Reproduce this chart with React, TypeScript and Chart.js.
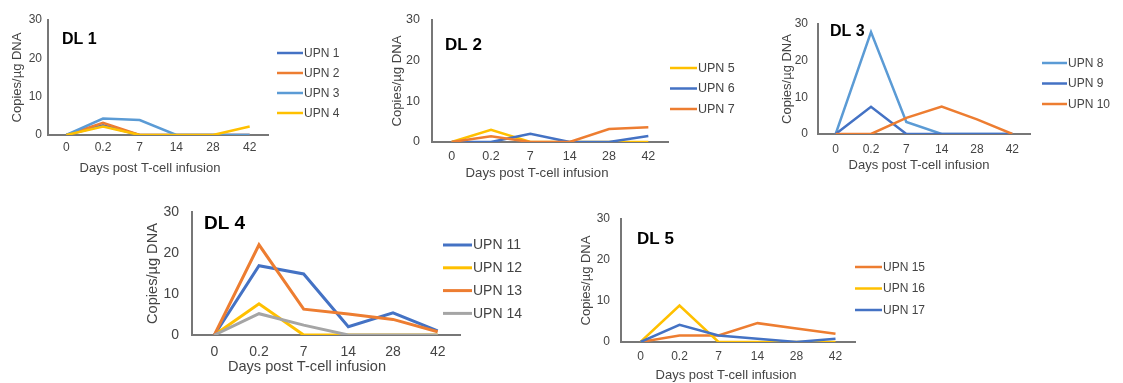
import React, { useEffect, useRef } from 'react';
import { Chart, registerables } from 'chart.js';

Chart.register(...registerables);

// ---------- data ----------
const days = ['0', '0.2', '7', '14', '28', '42'];
const yMin = 0;
const yMax = 30;
const yStep = 10;

const dl1Labels = ['UPN 1', 'UPN 2', 'UPN 3', 'UPN 4'];
const upn1 = [0, 2.5, 0, 0, 0, 0];
const upn2 = [0, 3.2, 0, 0, 0, 0];
const upn3 = [0, 4.3, 3.9, 0, 0, 0];
const upn4 = [0, 2.2, 0, 0, 0, 2.2];

const dl2Labels = ['UPN 5', 'UPN 6', 'UPN 7'];
const upn5 = [0, 3, 0, 0, 0, 0];
const upn6 = [0, 0, 2, 0, 0, 1.5];
const upn7 = [0, 1.4, 0, 0, 3.2, 3.6];

const dl3Labels = ['UPN 8', 'UPN 9', 'UPN 10'];
const upn8 = [0, 27.8, 3.3, 0, 0, 0];
const upn9 = [0, 7.4, 0, 0, 0, 0];
const upn10 = [0, 0, 4.4, 7.5, 4, 0];

const dl4Labels = ['UPN 11', 'UPN 12', 'UPN 13', 'UPN 14'];
const upn11 = [0, 16.9, 14.9, 2, 5.4, 1];
const upn12 = [0, 7.6, 0, 0, 0, 0];
const upn13 = [0, 22, 6.3, 5.1, 3.8, 0.8];
const upn14 = [0, 5.2, 2.4, 0, 0, 0];

const dl5Labels = ['UPN 15', 'UPN 16', 'UPN 17'];
const upn15 = [0, 1.6, 1.6, 4.6, 3.3, 2];
const upn16 = [0, 8.9, 0, 0, 0, 0];
const upn17 = [0, 4.2, 1.6, 0.8, 0, 0.8];

const panelTitles = ['DL 1', 'DL 2', 'DL 3', 'DL 4', 'DL 5'];
const yAxisTitle = 'Copies/µg DNA';
const xAxisTitle = 'Days post T-cell infusion';

// ---------- styles ----------
const BLUE = '#4472C4';
const ORANGE = '#ED7D31';
const LIGHT = '#5B9BD5';
const YELLOW = '#FFC000';
const GRAY = '#A5A5A5';
const FONT = '"Liberation Sans", Arial, sans-serif';
const TICK_COLOR = '#444444';
const AXIS_COLOR = '#777777';

type Series = { label: string; data: number[]; color: string };
type Panel = {
  title: string;
  series: Series[];
  canvas: { left: number; top: number; width: number; height: number };
  area: { left: number; top: number; right: number; bottom: number };
  fontSize: number;
  axisTitleSize: number;
  titleSize: number;
  lineWidth: number;
  yTitleX: number;
  yTickPad: number;
  xTickY: number;
  xTitle: { x: number; y: number };
  legend: { x: number; y: number; dy: number; len: number };
  titlePos: { x: number; y: number };
};

const panels: Panel[] = [
  {
    title: panelTitles[0],
    series: [
      { label: dl1Labels[0], data: upn1, color: BLUE },
      { label: dl1Labels[1], data: upn2, color: ORANGE },
      { label: dl1Labels[2], data: upn3, color: LIGHT },
      { label: dl1Labels[3], data: upn4, color: YELLOW },
    ],
    canvas: { left: 0, top: 0, width: 380, height: 185 },
    area: { left: 48, top: 20, right: 268, bottom: 135 },
    fontSize: 12,
    axisTitleSize: 13,
    titleSize: 16,
    lineWidth: 2.5,
    yTitleX: 17,
    yTickPad: 6,
    xTickY: 148,
    xTitle: { x: 150, y: 168 },
    legend: { x: 277, y: 53, dy: 20, len: 26 },
    titlePos: { x: 62, y: 40 },
  },
  {
    title: panelTitles[1],
    series: [
      { label: dl2Labels[0], data: upn5, color: YELLOW },
      { label: dl2Labels[1], data: upn6, color: BLUE },
      { label: dl2Labels[2], data: upn7, color: ORANGE },
    ],
    canvas: { left: 380, top: 0, width: 370, height: 185 },
    area: { left: 432, top: 20, right: 668, bottom: 142 },
    fontSize: 12.5,
    axisTitleSize: 13.2,
    titleSize: 17,
    lineWidth: 2.5,
    yTitleX: 397,
    yTickPad: 12,
    xTickY: 157,
    xTitle: { x: 537, y: 173 },
    legend: { x: 670, y: 68, dy: 20.5, len: 27 },
    titlePos: { x: 445, y: 45 },
  },
  {
    title: panelTitles[2],
    series: [
      { label: dl3Labels[0], data: upn8, color: LIGHT },
      { label: dl3Labels[1], data: upn9, color: BLUE },
      { label: dl3Labels[2], data: upn10, color: ORANGE },
    ],
    canvas: { left: 750, top: 0, width: 373, height: 185 },
    area: { left: 818, top: 24, right: 1030, bottom: 134 },
    fontSize: 12,
    axisTitleSize: 13,
    titleSize: 16,
    lineWidth: 2.5,
    yTitleX: 787,
    yTickPad: 10,
    xTickY: 150,
    xTitle: { x: 919, y: 165 },
    legend: { x: 1042, y: 63, dy: 20.5, len: 25 },
    titlePos: { x: 830, y: 32 },
  },
  {
    title: panelTitles[3],
    series: [
      { label: dl4Labels[0], data: upn11, color: BLUE },
      { label: dl4Labels[1], data: upn12, color: YELLOW },
      { label: dl4Labels[2], data: upn13, color: ORANGE },
      { label: dl4Labels[3], data: upn14, color: GRAY },
    ],
    canvas: { left: 120, top: 190, width: 420, height: 193 },
    area: { left: 192, top: 212, right: 460, bottom: 335 },
    fontSize: 14,
    axisTitleSize: 14.6,
    titleSize: 19,
    lineWidth: 3,
    yTitleX: 153,
    yTickPad: 13,
    xTickY: 352,
    xTitle: { x: 307, y: 367 },
    legend: { x: 443, y: 245, dy: 22.8, len: 29 },
    titlePos: { x: 204, y: 224 },
  },
  {
    title: panelTitles[4],
    series: [
      { label: dl5Labels[0], data: upn15, color: ORANGE },
      { label: dl5Labels[1], data: upn16, color: YELLOW },
      { label: dl5Labels[2], data: upn17, color: BLUE },
    ],
    canvas: { left: 540, top: 190, width: 400, height: 193 },
    area: { left: 621, top: 219, right: 855, bottom: 342 },
    fontSize: 12,
    axisTitleSize: 13,
    titleSize: 17,
    lineWidth: 2.5,
    yTitleX: 586,
    yTickPad: 11,
    xTickY: 357,
    xTitle: { x: 726, y: 375 },
    legend: { x: 855, y: 267, dy: 21.5, len: 27 },
    titlePos: { x: 637, y: 239 },
  },
];

const overlayPlugin = {
  id: 'panelOverlay',
  afterDraw(chart: any, _args: any, opts: any) {
    const ctx = chart.ctx as CanvasRenderingContext2D;
    ctx.save();
    ctx.textBaseline = 'middle';
    // panel title
    ctx.textAlign = 'left';
    ctx.font = `bold ${opts.titleSize}px ${FONT}`;
    ctx.fillStyle = '#000000';
    ctx.fillText(opts.title, opts.titleX, opts.titleY);
    // x axis title
    ctx.textAlign = 'center';
    ctx.font = `${opts.axisTitleSize}px ${FONT}`;
    ctx.fillStyle = TICK_COLOR;
    ctx.fillText(opts.xTitleText, opts.xTitleX, opts.xTitleY);
    // legend
    ctx.textAlign = 'left';
    chart.data.datasets.forEach((ds: any, i: number) => {
      const y = opts.legendY + i * opts.legendDy;
      ctx.strokeStyle = ds.borderColor;
      ctx.lineWidth = opts.lineWidth;
      ctx.beginPath();
      ctx.moveTo(opts.legendX, y);
      ctx.lineTo(opts.legendX + opts.legendLen, y);
      ctx.stroke();
      ctx.font = `${opts.fontSize}px ${FONT}`;
      ctx.fillStyle = TICK_COLOR;
      ctx.fillText(ds.label, opts.legendX + opts.legendLen + 1, y + 0.5);
    });
    ctx.restore();
  },
};

function PanelChart({ p }: { p: Panel }) {
  const ref = useRef<HTMLCanvasElement>(null);
  useEffect(() => {
    if (!ref.current) return;
    const c = p.canvas;
    const half = (p.fontSize * 1.2) / 2;
    const halfT = (p.axisTitleSize * 1.2) / 2;
    const yW = p.area.left - c.left;
    const xH = c.top + c.height - p.area.bottom - 2;
    const padTop = p.area.top - c.top;
    const padRight = c.left + c.width - p.area.right;
    const n = p.series.length;
    const font = { family: FONT, size: p.fontSize };
    const chart = new Chart(ref.current, {
      type: 'line',
      data: {
        labels: days,
        datasets: p.series.map((s, i) => ({
          label: s.label,
          data: s.data,
          borderColor: s.color,
          backgroundColor: s.color,
          borderWidth: p.lineWidth,
          pointRadius: 0,
          tension: 0,
          fill: false,
          order: n - i,
        })),
      },
      options: {
        responsive: false,
        animation: false,
        devicePixelRatio: 1,
        layout: { padding: { top: padTop, right: padRight, bottom: 2, left: 0 } },
        plugins: {
          legend: { display: false },
          tooltip: { enabled: false },
          panelOverlay: {
            title: p.title,
            titleSize: p.titleSize,
            fontSize: p.fontSize,
            axisTitleSize: p.axisTitleSize,
            lineWidth: p.lineWidth,
            titleX: p.titlePos.x - c.left,
            titleY: p.titlePos.y - c.top,
            xTitleText: xAxisTitle,
            xTitleX: p.xTitle.x - c.left,
            xTitleY: p.xTitle.y - c.top,
            legendX: p.legend.x - c.left,
            legendY: p.legend.y - c.top,
            legendDy: p.legend.dy,
            legendLen: p.legend.len,
          },
        } as any,
        scales: {
          x: {
            type: 'category',
            offset: true,
            grid: { display: false, drawTicks: false },
            border: { display: true, color: AXIS_COLOR, width: 2 },
            ticks: {
              color: TICK_COLOR,
              font,
              padding: p.xTickY - p.area.bottom - half,
              maxRotation: 0,
              autoSkip: false,
            },
            title: { display: false },
            afterFit: (s: any) => {
              s.height = xH;
            },
          },
          y: {
            min: yMin,
            max: yMax,
            grid: { display: false, drawTicks: false },
            border: { display: true, color: AXIS_COLOR, width: 2 },
            ticks: {
              stepSize: yStep,
              color: TICK_COLOR,
              font,
              padding: p.yTickPad,
            },
            title: {
              display: true,
              text: yAxisTitle,
              color: TICK_COLOR,
              font: { family: FONT, size: p.axisTitleSize },
              padding: { top: p.yTitleX - c.left - halfT, bottom: 0 },
            },
            afterFit: (s: any) => {
              s.width = yW;
            },
          },
        },
      },
      plugins: [overlayPlugin as any],
    });
    return () => chart.destroy();
  }, [p]);
  return (
    <canvas
      ref={ref}
      width={p.canvas.width}
      height={p.canvas.height}
      style={{
        position: 'absolute',
        left: p.canvas.left,
        top: p.canvas.top,
        width: p.canvas.width,
        height: p.canvas.height,
      }}
    />
  );
}

export default function App() {
  return (
    <div
      style={{
        position: 'absolute',
        left: 0,
        top: 0,
        width: 1123,
        height: 383,
        background: '#ffffff',
        overflow: 'hidden',
      }}
    >
      {panels.map((p, i) => (
        <PanelChart key={i} p={p} />
      ))}
    </div>
  );
}
